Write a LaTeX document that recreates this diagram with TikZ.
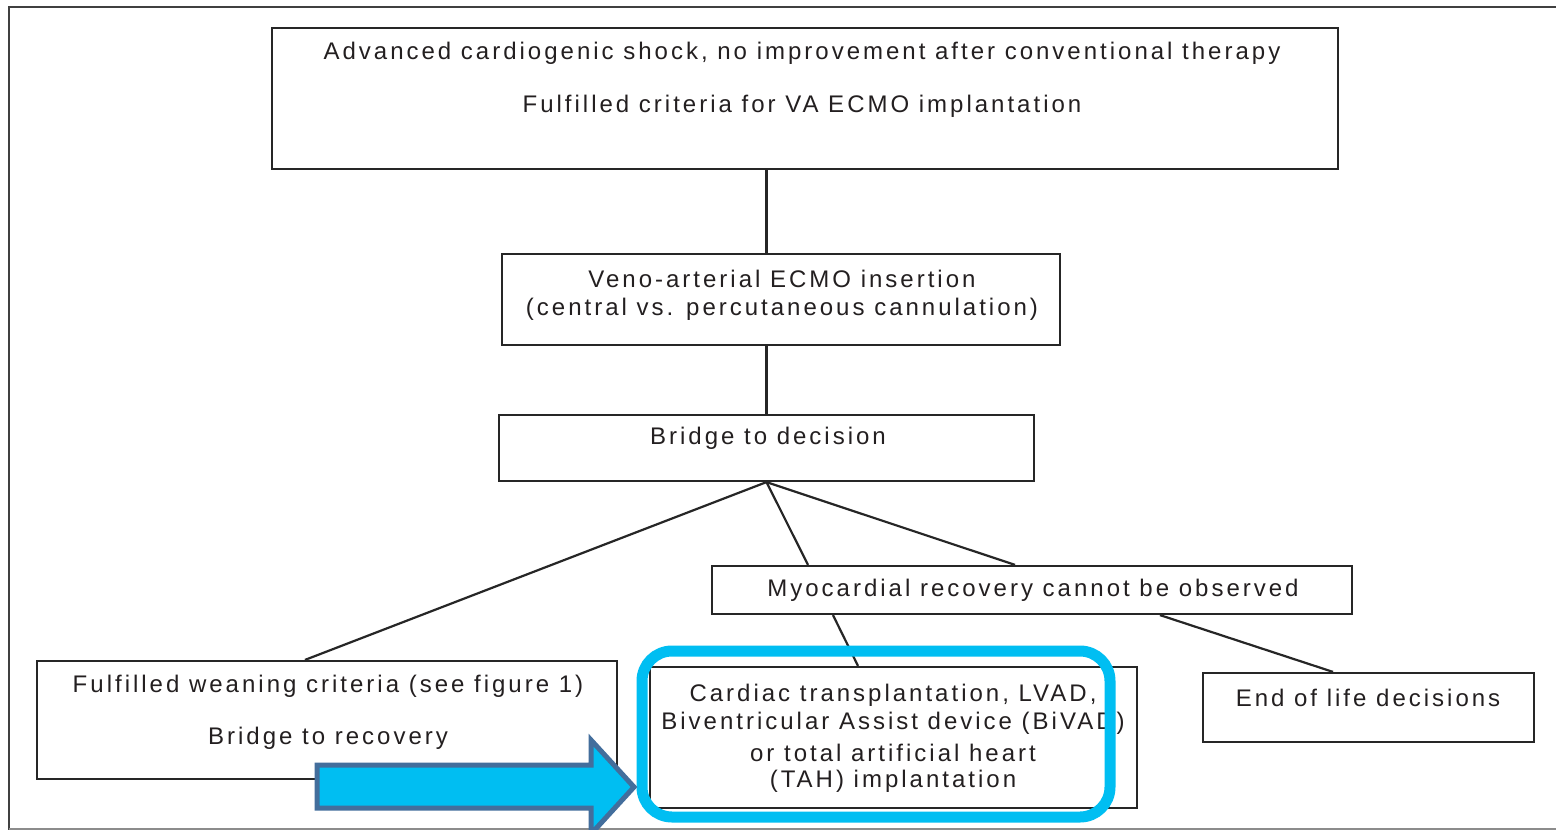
\documentclass[tikz,border=0pt]{standalone}
\usepackage{fontspec}
\setmainfont{Liberation Sans}[LetterSpace=12.5]
\usetikzlibrary{calc}
\definecolor{txt}{HTML}{231F20}
\definecolor{hl}{HTML}{00BEF2}
\definecolor{arrowedge}{HTML}{436E9C}
\begin{document}
\begin{tikzpicture}[x=1pt,y=-1pt,
  box/.style={draw=black!85,line width=2.2pt,rectangle,inner sep=0pt},
  lbl/.style={text=txt,font=\fontsize{24}{28}\selectfont,inner sep=0pt,align=center,yshift=-1.5pt},
  conn/.style={draw=black!85,line width=2.2pt}]
\useasboundingbox (0,0) rectangle (1556,830);
\fill[white] (0,0) rectangle (1556,830);
% outer frame
\draw[black!75,line width=2.5pt] (1556,7) -- (9,7) -- (9,830);
\draw[black!45,line width=2pt] (9,829) -- (1556,829);
% boxes
\node[box,minimum width=1066pt,minimum height=141pt] (b1) at (805,98.5) {};
\node[box,minimum width=558pt,minimum height=91pt] (b2) at (781,299.5) {};
\node[box,minimum width=535pt,minimum height=66pt] (b3) at (766.5,448) {};
\node[box,minimum width=640pt,minimum height=48pt] (b4) at (1032,590) {};
\node[box,minimum width=580pt,minimum height=118pt] (b5) at (327,720) {};
\node[box,minimum width=487pt,minimum height=141pt] (b6) at (893.5,737.5) {};
\node[box,minimum width=331pt,minimum height=69pt] (b7) at (1368.5,707.5) {};
% texts
\node[lbl] (t1a) at (802,52) {Advanced cardiogenic shock, no improvement after conventional therapy};
\node[lbl] (t1b) at (802,105) {Fulfilled criteria for VA ECMO implantation};
\node[lbl] (t2a) at (782,277) {Veno-arterial ECMO insertion};
\node[lbl] (t2b) at (782,308) {(central vs. percutaneous cannulation)};
\node[lbl] (t3) at (768,437) {Bridge to decision};
\node[lbl] (t4) at (1033,589) {Myocardial recovery cannot be observed};
\node[lbl] (t5a) at (328,685) {Fulfilled weaning criteria (see figure 1)};
\node[lbl] (t5b) at (328,737) {Bridge to recovery};
\node[lbl] (t6a) at (893,694) {Cardiac transplantation, LVAD,};
\node[lbl] (t6b) at (893,722) {Biventricular Assist device (BiVAD)};
\node[lbl] (t6c) at (893,751) {or total artificial heart};
\node[lbl] (t6d) at (893,780) {(TAH) implantation};
\node[lbl] (t7) at (1368,696) {End of life decisions};
% connectors
\draw[conn] (b1.south -| b3.north) -- (b2.north -| b3.north);
\draw[conn] (b2.south -| b3.north) -- (b3.north);
\draw[conn] (b3.south) -- ([xshift=-22pt]b5.north);
\draw[conn] (b3.south) -- ([xshift=-224pt]b4.north);
\draw[conn] (b3.south) -- ([xshift=-17pt]b4.north);
\draw[conn] ([xshift=-199pt]b4.south) -- ([xshift=-35.5pt]b6.north);
\draw[conn] ([xshift=128pt]b4.south) -- ([xshift=-35.5pt]b7.north);
% highlight
\node[draw=hl,line width=11pt,rounded corners=30pt,minimum width=468pt,minimum height=166pt,inner sep=0pt] (hlbox) at (876,734) {};
% arrow
\draw[fill=hl,draw=arrowedge,line width=5pt,line join=miter]
  (317,765) -- (591,765) -- (591,740) -- (634,787) -- (591,834) -- (591,808) -- (317,808) -- cycle;
\end{tikzpicture}
\end{document}
